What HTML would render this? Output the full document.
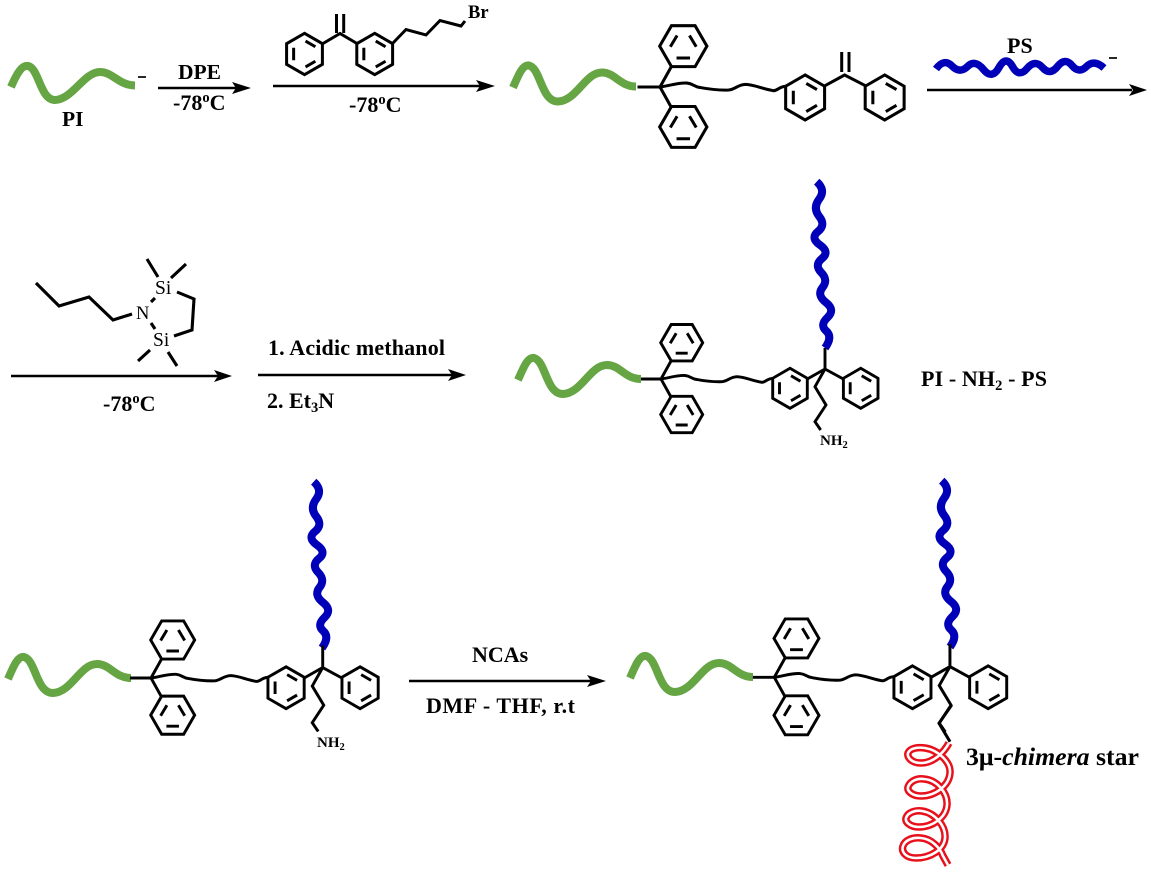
<!DOCTYPE html>
<html><head><meta charset="utf-8"><style>
html,body{margin:0;padding:0;background:#fff}
svg{display:block}
text{font-family:"Liberation Serif",serif;font-weight:bold;fill:#000;font-size:22px}
</style></head><body>
<svg width="1151" height="872" viewBox="0 0 1151 872" xmlns="http://www.w3.org/2000/svg">
<defs>
<g id="rp" fill="none" stroke="#000"><path d="M0-20L17.3-10V10L0 20L-17.3 10V-10Z"/><path d="M-10.5-6V6M1-12.5L10.5-7M1 12.5L10.5 7"/></g>
<g id="rf" fill="none" stroke="#000"><path d="M-21 0L-10.5-18.2H10.5L21 0L10.5 18.2H-10.5Z"/><path d="M-11.5 .5L-5.5-9.5M11.5 .5L5.5-9.5M-6 10.5H6"/></g>
<g id="core" fill="none" stroke="#000">
<path d="M-20 0H0M0 0L10 -18M0 0L10 18"/>
<use href="#rf" x="20.7" y="-36.3"/><use href="#rf" x="20.7" y="35.5"/>
<path d="M0 0C8-1 16-4 24-3.5C30-3 30 0 36 .5C44 2 52 3 61 2.7C67 2 69-2 76-2.3C84-2 92 2 101 3.3C105 3 106-.5 112-.7"/>
<use href="#rp" x="129" y="9.3"/><use href="#rp" x="199.7" y="9.3"/>
</g>
<path id="arm" fill="none" stroke="#000" stroke-linejoin="miter" d="M146.3 0L164-10L182.3 0M164-10V-31M164-10L154 7.7L165 26L154 42.7L159.7 51"/>
<path id="gr" fill="none" stroke="#66a544" stroke-width="8" d="M518 380C524 366 528 357 534 358C546 361 546 394 563 394C582 393 590 365 607 365C620 365 625 379 641 379"/>
<path id="bl" fill="none" stroke="#0000b8" stroke-width="8" d="M816.7 181.7Q826 190 819.25 199Q812.5 208 819.25 216.5Q826 225 818 231.5Q810 238 820 245Q830 252 822 258.5Q814 265 821.25 272.5Q828.5 280 822.5 287.5Q816.5 295 826 302.5Q835.5 310 827.5 317.5Q819.5 325 826.25 331Q833 337 825 348"/>
</defs>

<!-- row 1 -->
<path fill="none" stroke="#66a544" stroke-width="8" d="M11 87C17 73 22 65 28 66C39 68 40 100 55 100C73 99 84 72 100 72C113 72 118 85 135 85.5"/>
<path d="M138 77H146" stroke="#111" stroke-width="1.8"/>
<text x="62" y="126" style="font-size:21.5px">PI</text>
<text x="178" y="79" style="font-size:21.5px">DPE</text>
<g fill="none" stroke="#000" stroke-width="2.4"><path d="M158 88H236M273 86H480M11 376H218M258 375H452M927 90H1132M409 681H592"/></g>
<g fill="#000"><path d="M251 88L232 82L236 88L232 94ZM495 86L476 80L480 86L476 92ZM1147 90L1129 84L1133 90L1129 96ZM232 376L214 370L218 376L214 382ZM466 375L448 369L452 375L448 381ZM606 681L587 675L591 681L587 687Z"/></g>
<text x="173" y="110">-78<tspan dy="-8" style="font-size:14.5px">o</tspan><tspan dy="8">C</tspan></text>
<text x="349" y="112">-78<tspan dy="-8" style="font-size:14.5px">o</tspan><tspan dy="8">C</tspan></text>

<g stroke-width="3">
<use href="#rp" transform="translate(304.5 54) scale(1.035)" stroke-width="2.9"/>
<use href="#rp" transform="translate(374.7 54) scale(1.035)" stroke-width="2.9"/>
<path fill="none" stroke="#000" d="M323 43.5L340 33.5L357 43.5M336.5 33V14M343.7 33V14M393 43L406 29.5L426 35L440 20.5L461 26L465 21"/>
</g>
<text x="468" y="18" style="font-size:18.5px">Br</text>

<use href="#gr" transform="translate(-5 -292.5)"/>
<use href="#core" transform="translate(660 87) scale(1.125)" stroke-width="2.7"/>
<path fill="none" stroke="#000" stroke-width="3" d="M825 85.7L844.6 75L865.4 85.7M841.7 72V52M849 72V52"/>
<path fill="none" stroke="#0000b8" stroke-width="7.5" d="M936 69Q944 58 952 66Q960 74 967.5 66.5Q975 59 983.5 69.5Q992 80 999 67.5Q1006 55 1012.5 66.5Q1019 78 1027 68.5Q1035 59 1042.5 67.5Q1050 76 1057.5 66.5Q1065 57 1072 65.5Q1079 74 1086.5 66.5Q1094 59 1104 68"/>
<path d="M1109 58H1117" stroke="#111" stroke-width="1.8"/>
<text x="1007" y="53">PS</text>

<!-- row 2 left -->
<path fill="none" stroke="#000" stroke-width="3.1" d="M36 283L59 306L89 297L113 320L132 314M151 302L155 298M151 323L155 329M158 277L147 259M171 278L186 264M177 292L194 299L192 330L174 336M150 350L138 361M168 352L177 366"/>
<text x="136" y="319" style="font-weight:normal;font-size:18.5px">N</text>
<text x="155" y="294" style="font-weight:normal;font-size:19.5px">Si</text>
<text x="153" y="346" style="font-weight:normal;font-size:19.5px">Si</text>
<text x="103" y="411">-78<tspan dy="-8" style="font-size:14.5px">o</tspan><tspan dy="8">C</tspan></text>
<text x="268" y="355" textLength="177">1. Acidic methanol</text>
<text x="267" y="408">2. Et<tspan dy="4" style="font-size:14.5px">3</tspan><tspan dy="-4">N</tspan></text>

<!-- row 2 structure -->
<use href="#gr"/>
<use href="#bl"/>
<g transform="translate(661 379)" stroke-width="2.9"><use href="#core"/><use href="#arm"/></g>
<text x="820" y="445" style="font-size:15px">NH<tspan dy="3" style="font-size:10.5px">2</tspan></text>
<text x="921" y="386" textLength="126">PI - NH<tspan dy="4" style="font-size:14.5px">2</tspan><tspan dy="-4"> - PS</tspan></text>

<!-- row 3 left -->
<use href="#gr" transform="translate(-510 299)"/>
<use href="#bl" transform="translate(-503 300)"/>
<g transform="translate(151 678) scale(1.047)" stroke-width="2.8"><use href="#core"/><use href="#arm"/></g>
<text x="317" y="747" style="font-size:15px">NH<tspan dy="3" style="font-size:10.5px">2</tspan></text>

<text x="472" y="662">NCAs</text>
<text x="426" y="713" textLength="149">DMF - THF, r.t</text>

<!-- row 3 right -->
<use href="#gr" transform="translate(112 298)"/>
<use href="#bl" transform="translate(125 299)"/>
<g transform="translate(774.3 677.3) scale(1.071)" stroke-width="2.75"><use href="#core"/><use href="#arm"/></g>
<path fill="none" stroke="#000" stroke-width="3" d="M951.7 705L939 723.3L950 741.7"/>
<path fill="none" stroke="#e8101a" stroke-width="7.5" d="M949 743C944 752 934 763 921 763C911 763 907 757 908 753C910 748 918 747 925 748C938 750 951 762 950 773C949 786 935 796 921 796C912 796 907 791 908 787C910 781 917 778 924 779C937 780 948 793 947 805C946 818 932 827 919 827C910 827 905 822 906 818C908 812 916 810 922 811C935 813 946 826 945 838C944 850 930 858 916 858C906 858 901 852 903 846C905 840 913 837 921 838C932 839 940 848 943 856L948 865"/>
<path fill="none" stroke="#fff" stroke-width="2.6" d="M949 743C944 752 934 763 921 763C911 763 907 757 908 753C910 748 918 747 925 748C938 750 951 762 950 773C949 786 935 796 921 796C912 796 907 791 908 787C910 781 917 778 924 779C937 780 948 793 947 805C946 818 932 827 919 827C910 827 905 822 906 818C908 812 916 810 922 811C935 813 946 826 945 838C944 850 930 858 916 858C906 858 901 852 903 846C905 840 913 837 921 838C932 839 940 848 943 856L948 865"/>
<text x="966" y="765" style="font-size:25.8px">3μ-<tspan font-style="italic">chimera</tspan> star</text>
</svg>
</body></html>
